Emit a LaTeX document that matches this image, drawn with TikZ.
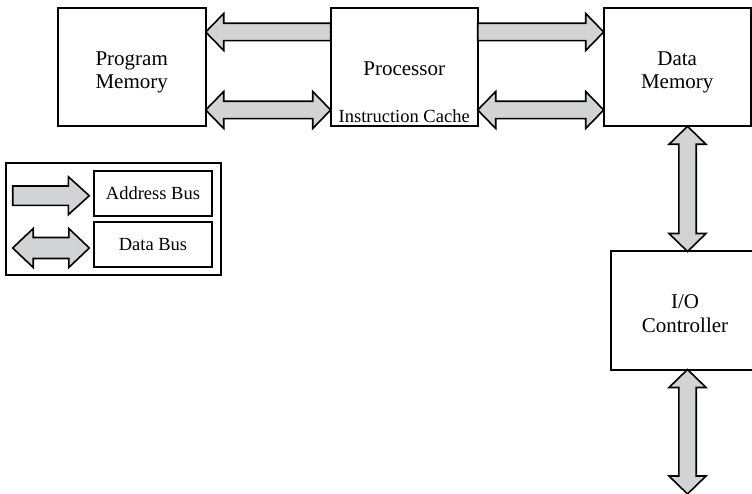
\documentclass[tikz,border=0pt]{standalone}
\usepackage{fontspec}
\setmainfont{Liberation Serif}
\usetikzlibrary{calc}

\definecolor{busgray}{RGB}{209,211,212}

\tikzset{
  block/.style={draw, line width=2pt, outer sep=0pt, minimum width=147pt, minimum height=118pt},
  blocktext/.style={align=center, font=\fontsize{21}{23.5}\selectfont},
  keybox/.style={draw, line width=2pt, outer sep=0pt, minimum width=118pt, minimum height=45.5pt, font=\fontsize{18.5}{22}\selectfont},
  headlen/.store in=\headlen, headhalf/.store in=\headhalf, shafthalf/.store in=\shafthalf,
  headlen=18pt, headhalf=18.5pt, shafthalf=8.7pt,
  bus/.style={draw, line width=1.6pt, fill=busgray, line join=miter},
  addrbus/.style={bus, to path={
    -- ($(\tikztostart)!\shafthalf!90:(\tikztotarget)$)
    -- ($(\tikztotarget)!\headlen!(\tikztostart)!\shafthalf!-90:(\tikztostart)$)
    -- ($(\tikztotarget)!\headlen!(\tikztostart)!\headhalf!-90:(\tikztostart)$)
    -- (\tikztotarget)
    -- ($(\tikztotarget)!\headlen!(\tikztostart)!\headhalf!90:(\tikztostart)$)
    -- ($(\tikztotarget)!\headlen!(\tikztostart)!\shafthalf!90:(\tikztostart)$)
    -- ($(\tikztostart)!\shafthalf!-90:(\tikztotarget)$)
    -- cycle}},
  databus/.style={bus, to path={
    -- ($(\tikztostart)!\headlen!(\tikztotarget)!\headhalf!90:(\tikztotarget)$)
    -- ($(\tikztostart)!\headlen!(\tikztotarget)!\shafthalf!90:(\tikztotarget)$)
    -- ($(\tikztotarget)!\headlen!(\tikztostart)!\shafthalf!-90:(\tikztostart)$)
    -- ($(\tikztotarget)!\headlen!(\tikztostart)!\headhalf!-90:(\tikztostart)$)
    -- (\tikztotarget)
    -- ($(\tikztotarget)!\headlen!(\tikztostart)!\headhalf!90:(\tikztostart)$)
    -- ($(\tikztotarget)!\headlen!(\tikztostart)!\shafthalf!90:(\tikztostart)$)
    -- ($(\tikztostart)!\headlen!(\tikztotarget)!\shafthalf!-90:(\tikztotarget)$)
    -- ($(\tikztostart)!\headlen!(\tikztotarget)!\headhalf!-90:(\tikztotarget)$)
    -- cycle}}
}

\begin{document}
\begin{tikzpicture}[x=1pt, y=-1pt]
  \useasboundingbox (0,0) rectangle (752,494);

  % Draw blocks
  \node[block, minimum width=148pt, label={[blocktext, yshift=-5pt]center:Program\\Memory}] (prog) at (131.7,67.3) {};
  \node[block, label={[blocktext, yshift=-1.5pt]center:Processor}] (proc) at (404.2,67.3) {};
  \node[block, label={[blocktext, yshift=-5pt]center:Data\\Memory}] (data) at (677.2,67.3) {};
  \node[block, minimum width=148pt, label={[blocktext, yshift=-3pt]center:I/O\\Controller}] (io) at (685,310.5) {};
  \node[anchor=base, font=\fontsize{18.5}{22}\selectfont] (cache) at ([yshift=3.5pt]proc.south) {Instruction Cache};

  % Draw legend
  \node[draw, line width=2pt, outer sep=0pt, minimum width=214.7pt, minimum height=112.3pt] (legend) at (113.3,218.8) {};
  \node[keybox] (addrkey) at (153,193.5) {Address Bus};
  \node[keybox] (datakey) at (153,244.5) {Data Bus};

  % Draw buses
  \draw[addrbus] ([yshift=35.3pt]proc.west) to ([yshift=35.3pt]prog.east);
  \draw[databus] ([yshift=-42.7pt]prog.east) to ([yshift=-42.7pt]proc.west);
  \draw[addrbus] ([yshift=35.3pt]proc.east) to ([yshift=35.3pt]data.west);
  \draw[databus] ([yshift=-42.7pt]proc.east) to ([yshift=-42.7pt]data.west);
  \draw[databus] ([xshift=10.3pt]data.south) to ([xshift=2.5pt]io.north);
  \coordinate (ioport) at (687.5,494);
  \draw[databus] ([xshift=2.5pt]io.south) to (ioport);

  % Draw legend arrows
  \coordinate (ka1) at (12.7,195.7);
  \coordinate (ka2) at (89.3,195.7);
  \draw[addrbus, headlen=21pt, headhalf=19pt, shafthalf=9.7pt] (ka1) to (ka2);
  \coordinate (kd1) at (12.7,248);
  \coordinate (kd2) at (89.3,248);
  \draw[databus, headlen=20.5pt, headhalf=19.5pt, shafthalf=10.5pt] (kd1) to (kd2);
\end{tikzpicture}
\end{document}
